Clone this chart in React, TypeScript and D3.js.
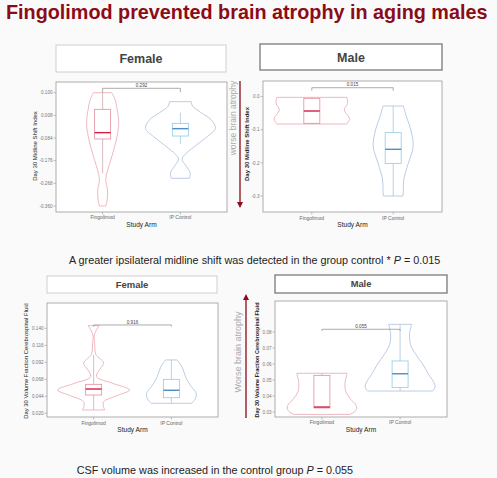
import React, { useEffect, useRef } from 'react';
import * as d3 from 'd3';

// ---- data ----
const arms = ['Fingolimod', 'IP Control'];

const shiftFemaleTicks = [0.100, 0.008, -0.084, -0.176, -0.268, -0.360];
const shiftMaleTicks = [0.0, -0.1, -0.2, -0.3];
const csfFemaleTicks = [0.140, 0.116, 0.092, 0.068, 0.044, 0.020];
const csfMaleTicks = [0.08, 0.07, 0.06, 0.05, 0.04, 0.03];

// violin outlines: [value, relative density]
const fingoShiftF: [number, number][] = [[0.100, 0.26], [0.070, 0.36], [0.043, 0.40], [-0.024, 0.46], [-0.092, 0.39], [-0.160, 0.26], [-0.227, 0.12], [-0.254, 0.09], [-0.295, 0.14], [-0.336, 0.13], [-0.360, 0.09]];
const ipShiftF: [number, number][] = [[0.0635, 0.31], [0.045, 0.35], [0.020, 0.58], [-0.010, 0.88], [-0.0448, 1.0], [-0.078, 0.77], [-0.119, 0.40], [-0.150, 0.14], [-0.170, 0.05], [-0.195, 0.15], [-0.225, 0.28], [-0.2475, 0.26]];
const fingoShiftM: [number, number][] = [[-0.002, 0.93], [-0.020, 0.95], [-0.040, 0.86], [-0.0655, 1.0], [-0.0755, 0.97], [-0.0826, 0.93]];
const ipShiftM: [number, number][] = [[-0.0282, 0.27], [-0.0604, 0.35], [-0.1007, 0.47], [-0.151, 0.53], [-0.2014, 0.40], [-0.2517, 0.28], [-0.282, 0.27], [-0.300, 0.26]];
const fingoCsfF: [number, number][] = [[0.1437, 0.15], [0.1305, 0.02], [0.118, 0.03], [0.1033, 0.06], [0.097, 0.18], [0.0906, 0.28], [0.082, 0.17], [0.0717, 0.08], [0.062, 0.55], [0.0529, 1.0], [0.045, 0.65], [0.0364, 0.28], [0.030, 0.27], [0.0247, 0.31]];
const ipCsfF: [number, number][] = [[0.0953, 0.16], [0.085, 0.30], [0.0694, 0.41], [0.058, 0.55], [0.0482, 0.69], [0.040, 0.66], [0.0341, 0.56]];
const fingoCsfM: [number, number][] = [[0.0542, 0.72], [0.048, 0.66], [0.043, 0.68], [0.038, 0.82], [0.034, 0.98], [0.031, 0.97], [0.0285, 0.80]];
const ipCsfM: [number, number][] = [[0.0848, 0.33], [0.079, 0.27], [0.072, 0.30], [0.066, 0.45], [0.0594, 0.66], [0.054, 0.8], [0.049, 0.95], [0.0458, 1.0], [0.0431, 0.93]];

// box stats: [lower whisker, q1, median, q3, upper whisker]
type Stats = [number, number, number, number, number];
const shiftFemaleBox: Stats[] = [[-0.227, -0.088, -0.0623, 0.0324, 0.100], [-0.1083, -0.0759, -0.0461, -0.0245, 0.0188]];
const shiftMaleBox: Stats[] = [[-0.0826, -0.0805, -0.0433, -0.005, -0.002], [-0.300, -0.2014, -0.159, -0.1087, -0.0282]];
const csfFemaleBox: Stats[] = [[0.0247, 0.0458, 0.0543, 0.0609, 0.1023], [0.0341, 0.042, 0.0525, 0.068, 0.0953]];
const csfMaleBox: Stats[] = [[0.0325, 0.0325, 0.0331, 0.0529, 0.0542], [0.0431, 0.0454, 0.0539, 0.0619, 0.0848]];

const pValues = ['0.292', '0.015', '0.916', '0.055'];
const bracketLevels = [0.1177, 0.027, 0.1447, 0.0817];

const FONT = '"Liberation Sans", Arial, Helvetica, sans-serif';
const violinStroke = ['#e8a6b0', '#aabfdc'];
const boxStroke = ['#e68c9b', '#92c9e4'];
const medianStroke = ['#d41f45', '#4b8ec9'];
const whiskerStroke = ['#d3a9b0', '#abc6da'];

const fmt = (spec: string) => (v: number) => d3.format(spec)(v).replace('\u2212', '-');

interface PanelCfg {
  sex: string;
  header: number[]; headerFont: number; headerBorder: string; headerBorderW: number;
  plot: number[];
  yDomain: [number, number]; yRange: [number, number];
  ticks: number[]; tickFmt: (v: number) => string;
  yTitle: string; yTitleX: number; yTitleY: number; yTitleFont: number; yTitleBold: boolean;
  maxHalf: number;
  violins: [number, number][][];
  boxes: Stats[];
  p: string; bracket: number; tip: number;
  xLabelY: number; armTitleY: number;
}

const panels: PanelCfg[] = [
  {
    sex: 'Female', header: [56, 45, 226, 72], headerFont: 12.5, headerBorder: '#cfcfcf', headerBorderW: 1,
    plot: [56, 82, 227, 212], yDomain: [0.100, -0.360], yRange: [92.67, 206],
    ticks: shiftFemaleTicks, tickFmt: fmt('.3f'),
    yTitle: 'Day 30 Midline Shift Index', yTitleX: 34.5, yTitleY: 146, yTitleFont: 6, yTitleBold: false,
    maxHalf: 35, violins: [fingoShiftF, ipShiftF], boxes: shiftFemaleBox,
    p: pValues[0], bracket: bracketLevels[0], tip: 4, xLabelY: 219, armTitleY: 226.5,
  },
  {
    sex: 'Male', header: [260, 44, 442, 70], headerFont: 12.5, headerBorder: '#8a8a8a', headerBorderW: 1.5,
    plot: [263, 81, 442, 212], yDomain: [0, -0.3], yRange: [96.67, 196],
    ticks: shiftMaleTicks, tickFmt: fmt('.1f'),
    yTitle: 'Day 30 Midline Shift Index', yTitleX: 246.5, yTitleY: 144, yTitleFont: 6, yTitleBold: true,
    maxHalf: 37.7, violins: [fingoShiftM, ipShiftM], boxes: shiftMaleBox,
    p: pValues[1], bracket: bracketLevels[1], tip: 3, xLabelY: 219.5, armTitleY: 227,
  },
  {
    sex: 'Female', header: [47, 276, 217, 293], headerFont: 9.5, headerBorder: '#cfcfcf', headerBorderW: 1,
    plot: [47, 303, 218, 417], yDomain: [0.140, 0.020], yRange: [328.3, 413.3],
    ticks: csfFemaleTicks, tickFmt: fmt('.3f'),
    yTitle: 'Day 30 Volume Fraction Cerebrospinal Fluid', yTitleX: 25.5, yTitleY: 361, yTitleFont: 5.9, yTitleBold: false,
    maxHalf: 36, violins: [fingoCsfF, ipCsfF], boxes: csfFemaleBox,
    p: pValues[2], bracket: bracketLevels[2], tip: 1.5, xLabelY: 424.5, armTitleY: 432,
  },
  {
    sex: 'Male', header: [275, 275, 447, 293], headerFont: 9.3, headerBorder: '#7a7a7a', headerBorderW: 1.3,
    plot: [275, 301, 447, 417], yDomain: [0.08, 0.03], yRange: [332, 412],
    ticks: csfMaleTicks, tickFmt: fmt('.2f'),
    yTitle: 'Day 30 Volume Fraction Cerebrospinal Fluid', yTitleX: 257.3, yTitleY: 360, yTitleFont: 5.5, yTitleBold: true,
    maxHalf: 35, violins: [fingoCsfM, ipCsfM], boxes: csfMaleBox,
    p: pValues[3], bracket: bracketLevels[3], tip: 1.7, xLabelY: 424, armTitleY: 431.5,
  },
];

const drawPanel = (root: d3.Selection<SVGGElement, unknown, null, undefined>, cfg: PanelCfg) => {
  const [hx0, hy0, hx1, hy1] = cfg.header;
  root.append('rect')
    .attr('x', hx0).attr('y', hy0).attr('width', hx1 - hx0).attr('height', hy1 - hy0)
    .attr('fill', '#fff').attr('stroke', cfg.headerBorder).attr('stroke-width', cfg.headerBorderW);
  root.append('text')
    .attr('x', (hx0 + hx1) / 2).attr('y', (hy0 + hy1) / 2).attr('dy', '0.36em')
    .attr('text-anchor', 'middle').attr('font-weight', 'bold')
    .attr('font-size', cfg.headerFont).attr('fill', '#444').text(cfg.sex);

  const [px0, py0, px1, py1] = cfg.plot;
  const x = d3.scalePoint<string>().domain(arms).range([px0, px1]).padding(0.6);
  const y = d3.scaleLinear().domain(cfg.yDomain).range(cfg.yRange);
  const w = d3.scaleLinear().domain([0, 1]).range([0, cfg.maxHalf]);

  root.append('rect')
    .attr('x', px0).attr('y', py0).attr('width', px1 - px0).attr('height', py1 - py0)
    .attr('fill', '#fff').attr('stroke', '#9a9a9a').attr('stroke-width', 0.8);

  // y axis
  const yAx = root.append('g');
  cfg.ticks.forEach(t => {
    yAx.append('line').attr('x1', px0 - 2.5).attr('x2', px0).attr('y1', y(t)).attr('y2', y(t))
      .attr('stroke', '#999').attr('stroke-width', 0.6);
    yAx.append('text').attr('x', px0 - 3.5).attr('y', y(t)).attr('dy', '0.35em')
      .attr('text-anchor', 'end').attr('font-size', 4.6).attr('fill', '#777').text(cfg.tickFmt(t));
  });
  root.append('text')
    .attr('transform', `translate(${cfg.yTitleX},${cfg.yTitleY}) rotate(-90)`)
    .attr('dy', '0.35em').attr('text-anchor', 'middle')
    .attr('font-size', cfg.yTitleFont).attr('font-weight', cfg.yTitleBold ? 'bold' : 'normal')
    .attr('fill', '#222').text(cfg.yTitle);

  // x axis
  arms.forEach(a => {
    root.append('line').attr('x1', x(a)!).attr('x2', x(a)!).attr('y1', py1).attr('y2', py1 + 2.5)
      .attr('stroke', '#999').attr('stroke-width', 0.6);
    root.append('text').attr('x', x(a)!).attr('y', cfg.xLabelY).attr('text-anchor', 'middle')
      .attr('font-size', 5).attr('fill', '#666').text(a);
  });
  root.append('text').attr('x', (px0 + px1) / 2).attr('y', cfg.armTitleY).attr('text-anchor', 'middle')
    .attr('font-size', 6.6).attr('fill', '#222').text('Study Arm');

  // violins + boxes
  arms.forEach((a, i) => {
    const cx = x(a)!;
    const area = d3.area<[number, number]>()
      .y(d => y(d[0]))
      .x0(d => cx - w(d[1]))
      .x1(d => cx + w(d[1]))
      .curve(d3.curveCatmullRom.alpha(0.5));
    root.append('path').attr('d', area(cfg.violins[i])!)
      .attr('fill', 'none').attr('stroke', violinStroke[i]).attr('stroke-width', 0.8);

    const [lo, q1, med, q3, hi] = cfg.boxes[i];
    const bw = 8;
    root.append('line').attr('x1', cx).attr('x2', cx).attr('y1', y(hi)).attr('y2', y(q3))
      .attr('stroke', whiskerStroke[i]).attr('stroke-width', 0.8);
    root.append('line').attr('x1', cx).attr('x2', cx).attr('y1', y(q1)).attr('y2', y(lo))
      .attr('stroke', whiskerStroke[i]).attr('stroke-width', 0.8);
    root.append('rect').attr('x', cx - bw).attr('y', y(q3)).attr('width', bw * 2)
      .attr('height', Math.max(0.5, y(q1) - y(q3)))
      .attr('fill', 'none').attr('stroke', boxStroke[i]).attr('stroke-width', 0.8);
    root.append('line').attr('x1', cx - bw).attr('x2', cx + bw).attr('y1', y(med)).attr('y2', y(med))
      .attr('stroke', medianStroke[i]).attr('stroke-width', 1.4);
  });

  // significance bracket
  const by = y(cfg.bracket);
  const xa = x(arms[0])!, xb = x(arms[1])!;
  root.append('path')
    .attr('d', `M${xa},${by + cfg.tip}V${by}H${xb}V${by + cfg.tip}`)
    .attr('fill', 'none').attr('stroke', '#888').attr('stroke-width', 0.7);
  root.append('text').attr('x', (xa + xb) / 2).attr('y', by - 1.3).attr('text-anchor', 'middle')
    .attr('font-size', 4.6).attr('fill', '#444').text(cfg.p);
};

const App: React.FC = () => {
  const svgRef = useRef<SVGSVGElement>(null);

  useEffect(() => {
    if (!svgRef.current) return;
    document.body.style.margin = '0';
    const svg = d3.select(svgRef.current);
    svg.selectAll('*').remove();
    svg.append('rect').attr('width', 497).attr('height', 478).attr('fill', '#fafafa');

    const g = svg.append('g').attr('font-family', FONT);

    g.append('text').attr('x', 6).attr('y', 18.5)
      .attr('font-size', 19.8).attr('font-weight', 'bold').attr('fill', '#8c0b16')
      .text('Fingolimod prevented brain atrophy in aging males');

    panels.forEach(p => drawPanel(g, p));

    // "worse brain atrophy" arrows
    const arrowColor = '#8c0b16';
    g.append('line').attr('x1', 240).attr('x2', 240).attr('y1', 81).attr('y2', 203)
      .attr('stroke', arrowColor).attr('stroke-width', 1.3);
    g.append('path').attr('d', 'M237,202L243,202L240,208Z').attr('fill', arrowColor);
    g.append('text').attr('transform', 'translate(233.5,118) rotate(-90)')
      .attr('dy', '0.35em').attr('text-anchor', 'middle')
      .attr('font-size', 8.5).attr('fill', '#aaa').text('worse brain atrophy');

    g.append('line').attr('x1', 246).attr('x2', 246).attr('y1', 418).attr('y2', 299)
      .attr('stroke', arrowColor).attr('stroke-width', 1.3);
    g.append('path').attr('d', 'M243,300L249,300L246,294Z').attr('fill', arrowColor);
    g.append('text').attr('transform', 'translate(238,352) rotate(-90)')
      .attr('dy', '0.35em').attr('text-anchor', 'middle')
      .attr('font-size', 9).attr('fill', '#aaa').text('Worse brain atrophy');

    // captions
    const cap1 = g.append('text').attr('x', 69).attr('y', 263.5).attr('font-size', 10.8).attr('fill', '#222');
    cap1.append('tspan').text('A greater ipsilateral midline shift was detected in the group control * ');
    cap1.append('tspan').attr('font-style', 'italic').text('P');
    cap1.append('tspan').text(' = 0.015');

    const cap2 = g.append('text').attr('x', 76.7).attr('y', 474).attr('font-size', 10.8).attr('fill', '#222');
    cap2.append('tspan').text('CSF volume was increased in the control group ');
    cap2.append('tspan').attr('font-style', 'italic').text('P');
    cap2.append('tspan').text(' = 0.055');
  }, []);

  return <svg ref={svgRef} width={497} height={478} style={{ display: 'block' }} />;
};

export default App;
